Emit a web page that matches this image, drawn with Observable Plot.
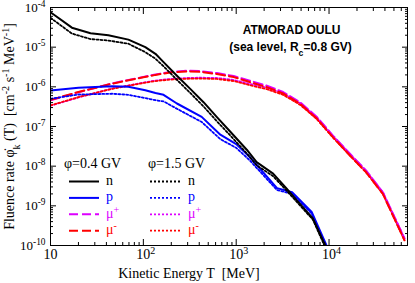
<!DOCTYPE html>
<html><head><meta charset="utf-8">
<script src="https://cdn.jsdelivr.net/npm/d3@7"></script>
<script src="https://cdn.jsdelivr.net/npm/@observablehq/plot@0.6"></script>
<style>
body{margin:0;background:#fff}
svg{display:block}
svg text{white-space:pre}
</style>
</head><body><div id="chart"></div>
<script>
// ---- data (kinetic energy in MeV, fluence rate in cm^-2 s^-1 MeV^-1) ----
const energyN = [10, 17, 27, 42, 69, 105, 135, 165, 230, 320, 445, 620, 860, 1300, 1660, 2500, 3500, 4500, 6700, 9100];
const neutron04 = [7.6e-5, 3.1e-5, 2.25e-5, 2.0e-5, 1.55e-5, 1.0e-5, 6.8e-6, 4.2e-6, 1.9e-6, 8.9e-7, 4.1e-7, 1.73e-7, 7.5e-8, 2.6e-8, 1.26e-8, 6.5e-9, 2.7e-9, 1.37e-9, 4.8e-10, 1.0e-10];
const neutron15 = [5.5e-5, 2.2e-5, 1.6e-5, 1.47e-5, 1.22e-5, 7.5e-6, 5.1e-6, 3.3e-6, 1.5e-6, 7.0e-7, 3.2e-7, 1.35e-7, 6.0e-8, 2.1e-8, 1.05e-8, 5.6e-9, 2.4e-9, 1.25e-9, 4.5e-10, 9.0e-11];

const energyP = [10, 20, 46, 69, 105, 135, 165, 230, 425, 675, 1000, 1400, 2750, 4000, 6500, 9400];
const proton04 = [8.1e-7, 9.5e-7, 1.04e-6, 1.0e-6, 8.2e-7, 7.0e-7, 6.3e-7, 3.8e-7, 1.75e-7, 6.2e-8, 3.6e-8, 1.7e-8, 2.8e-9, 2.2e-9, 7.0e-10, 1.0e-10];
const proton15 = [5.0e-7, 6.4e-7, 6.7e-7, 6.3e-7, 5.2e-7, 4.6e-7, 4.3e-7, 2.8e-7, 1.3e-7, 4.8e-8, 2.9e-8, 1.4e-8, 2.5e-9, 2.0e-9, 6.4e-10, 9.0e-11];

const energyMu = [10, 20, 46, 100, 135, 195, 300, 410, 620, 940, 1400, 2140, 3200, 4900, 7400, 11000, 16800, 25000, 38000, 65000];
const muPlus04 = [4.6e-7, 7.3e-7, 1.22e-6, 1.78e-6, 2.05e-6, 2.38e-6, 2.55e-6, 2.5e-6, 2.22e-6, 1.88e-6, 1.43e-6, 1.07e-6, 7.4e-7, 4.05e-7, 1.74e-7, 5.9e-8, 2.05e-8, 7.8e-9, 2.2e-9, 1.5e-10];
const muMinus04 = [4.7e-7, 7.4e-7, 1.2e-6, 1.74e-6, 2.0e-6, 2.3e-6, 2.45e-6, 2.38e-6, 2.1e-6, 1.76e-6, 1.32e-6, 9.8e-7, 6.8e-7, 3.7e-7, 1.58e-7, 5.4e-8, 1.86e-8, 7.1e-9, 2.0e-9, 1.35e-10];
const muPlus15 = [3.35e-7, 5.4e-7, 9.0e-7, 1.28e-6, 1.44e-6, 1.58e-6, 1.67e-6, 1.7e-6, 1.67e-6, 1.49e-6, 1.19e-6, 9.5e-7, 6.9e-7, 3.85e-7, 1.68e-7, 5.8e-8, 2.02e-8, 7.7e-9, 2.2e-9, 1.5e-10];
const muMinus15 = [3.4e-7, 5.5e-7, 8.9e-7, 1.25e-6, 1.4e-6, 1.52e-6, 1.6e-6, 1.62e-6, 1.58e-6, 1.4e-6, 1.1e-6, 8.7e-7, 6.3e-7, 3.5e-7, 1.53e-7, 5.3e-8, 1.84e-8, 7.0e-9, 2.0e-9, 1.35e-10];

const xTickValues = [10, 100, 1000, 10000];
const xTickLabels = ["10", "10^{2}", "10^{3}", "10^{4}"];
const yTickValues = [1e-10, 1e-9, 1e-8, 1e-7, 1e-6, 1e-5, 1e-4];
const yTickLabels = ["10^{-10}", "10^{-9}", "10^{-8}", "10^{-7}", "10^{-6}", "10^{-5}", "10^{-4}"];

const legendTitles = ["\u03C6=0.4 GV", "\u03C6=1.5 GV"];
const particleLabels = ["n", "p", "\u03BC^{+}", "\u03BC^{-}"];

const title = "ATMORAD OULU";
const subtitle = "(sea level, R_{c}=0.8 GV)";
const xLabel = "Kinetic Energy T  [MeV]";
const yLabel = "Fluence rate \u03C6\u0307_{k} (T)  [cm^{-2} s^{-1} MeV^{-1}]";

// ---- styles ----
const BLACK = "#000000", BLUE = "#0000ff", MAG = "#dd00ff", RED = "#ff0000";
const SOLID = null, DOT = "2,2", DASH = "9,4";
const series = [
  {id: "n04", E: energyN, F: neutron04, color: BLACK, dash: SOLID, w: 2},
  {id: "p04", E: energyP, F: proton04, color: BLUE, dash: SOLID, w: 2},
  {id: "mup04", E: energyMu, F: muPlus04, color: MAG, dash: DASH, w: 2},
  {id: "mum04", E: energyMu, F: muMinus04, color: RED, dash: DASH, w: 2},
  {id: "n15", E: energyN, F: neutron15, color: BLACK, dash: DOT, w: 1.8},
  {id: "p15", E: energyP, F: proton15, color: BLUE, dash: DOT, w: 1.8},
  {id: "mup15", E: energyMu, F: muPlus15, color: MAG, dash: DOT, w: 1.8},
  {id: "mum15", E: energyMu, F: muMinus15, color: RED, dash: DOT, w: 1.8}
];
const drawOrder = ["mup15", "mum15", "mup04", "mum04", "p15", "p04", "n15", "n04"];

const SERIF = "'Liberation Serif', 'Times New Roman', serif";
const SANS = "'Liberation Sans', Arial, sans-serif";

const lineMarks = drawOrder.map(id => {
  const s = series.find(d => d.id === id);
  const rows = s.E.map((e, i) => ({E: e, F: s.F[i]}));
  return Plot.line(rows, {x: "E", y: "F", stroke: s.color, strokeWidth: s.w,
    strokeDasharray: s.dash, clip: true, curve: "linear"});
});

function minorOf(majors, lo, hi) {
  const out = [];
  for (const m of majors) for (let k = 2; k <= 9; k++) { const v = m * k; if (v > lo && v < hi) out.push(v); }
  return out;
}
const xMinor = minorOf([10, 100, 1000, 10000], 10, 70000);
const yMinor = minorOf([1e-10, 1e-9, 1e-8, 1e-7, 1e-6, 1e-5], 1e-10, 1e-4);

const fmtX = d => xTickLabels[xTickValues.indexOf(d)];
const fmtY = d => yTickLabels[yTickValues.indexOf(d)];

const tickStyle = {stroke: "#000", fill: "none", label: null, tickFormat: () => ""};

const svg = Plot.plot({
  width: 415, height: 283,
  marginLeft: 50, marginRight: 8, marginTop: 7, marginBottom: 38,
  style: {background: "#fff", color: "#000"},
  x: {type: "log", domain: [10, 70000]},
  y: {type: "log", domain: [1e-10, 1e-4]},
  marks: [
    ...lineMarks,
    Plot.frame({stroke: "#000", strokeWidth: 1}),
    // inward ticks, all four sides
    Plot.axisX(xTickValues, {...tickStyle, anchor: "bottom", tickSize: 6, insetBottom: 6}),
    Plot.axisX(xMinor, {...tickStyle, anchor: "bottom", tickSize: 3, insetBottom: 3}),
    Plot.axisX(xTickValues, {...tickStyle, anchor: "top", tickSize: 6, insetTop: 6}),
    Plot.axisX(xMinor, {...tickStyle, anchor: "top", tickSize: 3, insetTop: 3}),
    Plot.axisY(yTickValues, {...tickStyle, anchor: "left", tickSize: 6, insetLeft: 6}),
    Plot.axisY(yMinor, {...tickStyle, anchor: "left", tickSize: 3, insetLeft: 3}),
    Plot.axisY(yTickValues, {...tickStyle, anchor: "right", tickSize: 6, insetRight: 6}),
    Plot.axisY(yMinor, {...tickStyle, anchor: "right", tickSize: 3, insetRight: 3}),
    // tick labels
    Plot.axisX(xTickValues, {anchor: "bottom", tickSize: 0, tickPadding: 4, tickFormat: fmtX, label: null,
      textAnchor: "start", dx: -7, fontSize: 14, fontFamily: SERIF, fill: "#000"}),
    Plot.axisY(yTickValues, {anchor: "left", tickSize: 0, tickPadding: 5, tickFormat: fmtY, label: null,
      fontSize: 13, fontFamily: SERIF, fill: "#000"}),
    // axis titles
    Plot.text([xLabel], {frameAnchor: "bottom", dx: -40, dy: 28, textAnchor: "middle", lineAnchor: "middle",
      fontSize: 14, fontFamily: SERIF, fill: "#000"}),
    Plot.text([yLabel], {frameAnchor: "left", rotate: -90, dx: -41, textAnchor: "middle", lineAnchor: "middle",
      fontSize: 14, fontFamily: SERIF, fill: "#000"}),
    // annotation
    Plot.text([title], {frameAnchor: "top-left", dx: 241, dy: 23, textAnchor: "middle", lineAnchor: "middle",
      fontSize: 12, fontWeight: "bold", fontFamily: SANS, fill: "#000"}),
    Plot.text([subtitle], {frameAnchor: "top-left", dx: 240, dy: 40, textAnchor: "middle", lineAnchor: "middle",
      fontSize: 12, fontWeight: "bold", fontFamily: SANS, fill: "#000"})
  ]
});

// ---- legend (inside plot area, lower left) ----
const NS = "http://www.w3.org/2000/svg";
const lg = d3.select(svg).append("g").attr("font-family", SERIF).attr("font-size", 14)
  .attr("text-anchor", "start");
const legendCols = [
  {title: legendTitles[0], ids: ["n04", "p04", "mup04", "mum04"], tx: 64, lx0: 69, lx1: 99, labx: 106},
  {title: legendTitles[1], ids: ["n15", "p15", "mup15", "mum15"], tx: 148, lx0: 150, lx1: 182, labx: 188}
];
legendCols.forEach(col => {
  lg.append("text").attr("x", col.tx).attr("y", 168).attr("fill", "#000").text(col.title);
  col.ids.forEach((id, i) => {
    const s = series.find(d => d.id === id);
    const yc = 181.5 + i * 16.4;
    lg.append("line").attr("x1", col.lx0).attr("x2", col.lx1).attr("y1", yc).attr("y2", yc)
      .attr("stroke", s.color).attr("stroke-width", s.w).attr("stroke-dasharray", s.dash);
    lg.append("text").attr("x", col.labx).attr("y", yc + 3.5).attr("fill", s.color).text(particleLabels[i]);
  });
});

// ---- convert ^{..} and _{..} into super/subscript tspans ----
d3.select(svg).selectAll("text").each(function() {
  const el = this;
  if (el.querySelector("tspan")) return;
  const s = el.textContent;
  if (!/[\^_]\{/.test(s)) return;
  el.textContent = "";
  const re = /([\^_])\{([^}]*)\}/g;
  let last = 0, m;
  const add = (txt, kind) => {
    if (!txt) return;
    const t = document.createElementNS(NS, "tspan");
    t.textContent = txt;
    if (kind) {
      t.setAttribute("font-size", "72%");
      t.setAttribute("baseline-shift", kind === "^" ? "super" : "sub");
    }
    el.appendChild(t);
  };
  while ((m = re.exec(s))) {
    add(s.slice(last, m.index), null);
    add(m[2], m[1]);
    last = re.lastIndex;
  }
  add(s.slice(last), null);
});

document.getElementById("chart").appendChild(svg);
</script>
</body></html>
